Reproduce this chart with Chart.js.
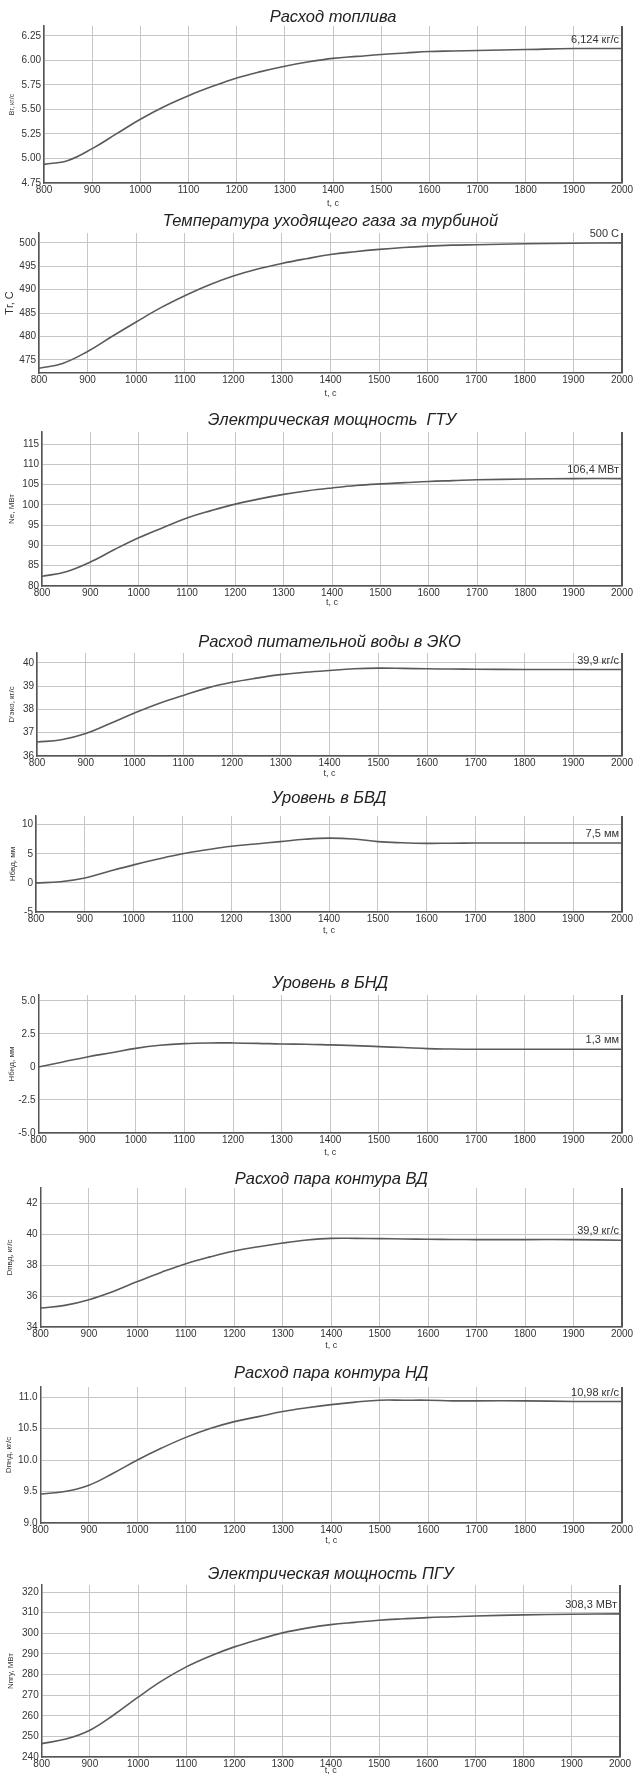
<!DOCTYPE html>
<html>
<head>
<meta charset="utf-8">
<script src="https://cdn.jsdelivr.net/npm/chart.js@4.4.1/dist/chart.umd.min.js"></script>
<style>
  body { margin: 0; background: #fff; }
  #page { position: relative; width: 635px; height: 1778px; overflow: hidden; }
  .panel { position: absolute; left: 0; width: 635px; }
</style>
</head>
<body>
<div id="page"></div>
<script>
// время, с
const times = [800, 850, 900, 950, 1000, 1050, 1100, 1150, 1200, 1250, 1300, 1350, 1400, 1450, 1500, 1550, 1600, 1650, 1700, 1800, 1900, 2000];
const xTicks = [800, 900, 1000, 1100, 1200, 1300, 1400, 1500, 1600, 1700, 1800, 1900, 2000];
const xLabels = ["800", "900", "1000", "1100", "1200", "1300", "1400", "1500", "1600", "1700", "1800", "1900", "2000"];

const fuelFlow = [4.94, 4.98, 5.10, 5.25, 5.40, 5.53, 5.64, 5.735, 5.82, 5.885, 5.94, 5.985, 6.02, 6.04, 6.06, 6.075, 6.09, 6.095, 6.10, 6.11, 6.12, 6.12];
const gasTemp = [473.2, 474.3, 476.8, 480.0, 483.1, 486.1, 488.7, 491.0, 492.9, 494.4, 495.6, 496.6, 497.5, 498.1, 498.6, 499.0, 499.3, 499.5, 499.6, 499.8, 499.9, 500.0];
const gtuPower = [82.4, 83.5, 85.9, 89.0, 91.9, 94.4, 96.8, 98.6, 100.2, 101.5, 102.6, 103.5, 104.2, 104.8, 105.2, 105.5, 105.8, 106.0, 106.2, 106.4, 106.5, 106.5];
const ecoFlow = [36.6, 36.7, 36.97, 37.4, 37.85, 38.26, 38.6, 38.93, 39.17, 39.35, 39.5, 39.6, 39.68, 39.75, 39.78, 39.77, 39.75, 39.74, 39.73, 39.72, 39.72, 39.72];
const levelHp = [0, 0.2, 0.85, 2.0, 3.1, 4.1, 5.0, 5.7, 6.3, 6.7, 7.1, 7.5, 7.7, 7.55, 7.1, 6.9, 6.8, 6.82, 6.85, 6.85, 6.85, 6.85];
const levelLp = [0, 0.38, 0.76, 1.08, 1.41, 1.64, 1.77, 1.82, 1.82, 1.79, 1.74, 1.72, 1.67, 1.62, 1.54, 1.47, 1.39, 1.36, 1.34, 1.34, 1.34, 1.34];
const steamHp = [35.23, 35.4, 35.77, 36.3, 36.94, 37.55, 38.1, 38.54, 38.92, 39.2, 39.44, 39.63, 39.74, 39.74, 39.72, 39.7, 39.68, 39.67, 39.66, 39.66, 39.66, 39.62];
const steamLp = [9.46, 9.5, 9.6, 9.79, 10.0, 10.19, 10.36, 10.5, 10.61, 10.69, 10.77, 10.83, 10.88, 10.92, 10.95, 10.95, 10.95, 10.94, 10.94, 10.94, 10.93, 10.93];
const pguPower = [246.5, 248.7, 253, 260.5, 269, 277, 283.7, 289, 293.4, 297, 300.2, 302.5, 304.2, 305.3, 306.3, 307.0, 307.6, 308.0, 308.4, 308.9, 309.2, 309.4];

// деления по оси Y
const ticksFuel = [4.75, 5.0, 5.25, 5.5, 5.75, 6.0, 6.25];
const labelsFuel = ["4.75", "5.00", "5.25", "5.50", "5.75", "6.00", "6.25"];
const ticksTemp = [475, 480, 485, 490, 495, 500];
const labelsTemp = ["475", "480", "485", "490", "495", "500"];
const ticksGtu = [80, 85, 90, 95, 100, 105, 110, 115];
const labelsGtu = ["80", "85", "90", "95", "100", "105", "110", "115"];
const ticksEco = [36, 37, 38, 39, 40];
const labelsEco = ["36", "37", "38", "39", "40"];
const ticksHp = [-5, 0, 5, 10];
const labelsHp = ["-5", "0", "5", "10"];
const ticksLp = [-5, -2.5, 0, 2.5, 5];
const labelsLp = ["-5.0", "-2.5", "0", "2.5", "5.0"];
const ticksSteamHp = [34, 36, 38, 40, 42];
const labelsSteamHp = ["34", "36", "38", "40", "42"];
const ticksSteamLp = [9, 9.5, 10, 10.5, 11];
const labelsSteamLp = ["9.0", "9.5", "10.0", "10.5", "11.0"];
const ticksPgu = [240, 250, 260, 270, 280, 290, 300, 310, 320];
const labelsPgu = ["240", "250", "260", "270", "280", "290", "300", "310", "320"];

const panels = [
  { title: "Расход топлива", yTitle: "Вг, кг/с", ySize: 7, yX: 12, values: fuelFlow, ticks: ticksFuel, labels: labelsFuel, min: 4.75, max: 6.35, endText: "6,124 кг/с", titleY: 17, top: 26, bottom: 183, xTitleY: 204, left: 44, right: 622 },
  { title: "Температура уходящего газа за турбиной", yTitle: "Тг, С", ySize: 11, yX: 10, values: gasTemp, ticks: ticksTemp, labels: labelsTemp, min: 472.2, max: 502.1, endText: "500 С", titleY: 221, top: 233, bottom: 373, xTitleY: 394, left: 39, right: 622 },
  { title: "Электрическая мощность  ГТУ", yTitle: "Nе, МВт", ySize: 8, yX: 12, values: gtuPower, ticks: ticksGtu, labels: labelsGtu, min: 80, max: 118, endText: "106,4 МВт", titleY: 420, top: 432, bottom: 586, xTitleY: 603, left: 42, right: 622 },
  { title: "Расход питательной воды в ЭКО", yTitle: "D'эко, кг/с", ySize: 8, yX: 12, values: ecoFlow, ticks: ticksEco, labels: labelsEco, min: 36, max: 40.43, endText: "39,9 кг/с", titleY: 642, top: 653, bottom: 756, xTitleY: 774, left: 37, right: 622 },
  { title: "Уровень в БВД", yTitle: "Нбвд, мм", ySize: 8, yX: 13, values: levelHp, ticks: ticksHp, labels: labelsHp, min: -5, max: 11.5, endText: "7,5 мм", titleY: 798, top: 816, bottom: 912, xTitleY: 931, left: 36, right: 622 },
  { title: "Уровень в БНД", yTitle: "Нбнд, мм", ySize: 8, yX: 12, values: levelLp, ticks: ticksLp, labels: labelsLp, min: -5, max: 5.45, endText: "1,3 мм", titleY: 983, top: 995, bottom: 1133, xTitleY: 1153, left: 38.5, right: 622 },
  { title: "Расход пара контура ВД", yTitle: "Dпвд, кг/с", ySize: 8, yX: 10, values: steamHp, ticks: ticksSteamHp, labels: labelsSteamHp, min: 34, max: 43, endText: "39,9 кг/с", titleY: 1179, top: 1188, bottom: 1327, xTitleY: 1346, left: 40.5, right: 622 },
  { title: "Расход пара контура НД", yTitle: "Dпнд, кг/с", ySize: 8, yX: 9, values: steamLp, ticks: ticksSteamLp, labels: labelsSteamLp, min: 9, max: 11.16, endText: "10,98 кг/с", titleY: 1373, top: 1387, bottom: 1523, xTitleY: 1541, left: 40.5, right: 622 },
  { title: "Электрическая мощность ПГУ", yTitle: "Nпгу, МВт", ySize: 8, yX: 11, values: pguPower, ticks: ticksPgu, labels: labelsPgu, min: 240, max: 323.4, endText: "308,3 МВт", titleY: 1574, top: 1585, bottom: 1757, xTitleY: 1771, left: 41.7, right: 620 },
];

Chart.defaults.font.family = "'Liberation Sans', Arial, sans-serif";
Chart.defaults.color = "#333";

// правая рамка и подпись конечного значения
const edgePlugin = {
  id: "edge",
  afterDatasetsDraw(chart, args, opts) {
    const { ctx, chartArea } = chart;
    ctx.save();
    ctx.strokeStyle = "#555";
    ctx.lineWidth = 2;
    ctx.beginPath();
    ctx.moveTo(chartArea.right, chartArea.top);
    ctx.lineTo(chartArea.right, chartArea.bottom);
    ctx.stroke();
    const data = chart.data.datasets[0].data;
    const last = data[data.length - 1];
    const y = chart.scales.y.getPixelForValue(last.y) - 9;
    ctx.font = "11px 'Liberation Sans', Arial, sans-serif";
    ctx.fillStyle = "#333";
    ctx.textAlign = "right";
    ctx.textBaseline = "middle";
    ctx.fillText(opts.text, chartArea.right - 3, y);
    ctx.restore();
  },
};

const page = document.getElementById("page");

panels.forEach((p) => {
  const blockTop = p.titleY - 12;
  const blockBottom = p.xTitleY + 7;

  const div = document.createElement("div");
  div.className = "panel";
  div.style.top = blockTop + "px";
  div.style.height = blockBottom - blockTop + "px";
  const canvas = document.createElement("canvas");
  div.appendChild(canvas);
  page.appendChild(div);

  new Chart(canvas, {
    type: "line",
    data: {
      datasets: [
        {
          data: times.map((t, i) => ({ x: t, y: p.values[i] })),
          borderColor: "#5a5a5a",
          borderWidth: 1.6,
          pointRadius: 0,
          fill: false,
          tension: 0.4,
        },
      ],
    },
    options: {
      responsive: true,
      maintainAspectRatio: false,
      devicePixelRatio: 1,
      animation: false,
      layout: { padding: { left: 0, right: 635 - p.right, top: 0, bottom: 0 } },
      plugins: {
        legend: { display: false },
        tooltip: { enabled: false },
        title: {
          display: true,
          text: p.title,
          fullSize: false,
          color: "#222",
          font: { size: 16.5, style: "italic", weight: "normal", lineHeight: 1 },
          padding: { top: 3.75, bottom: p.top - p.titleY - 8.25 },
        },
        edge: { text: p.endText },
      },
      scales: {
        x: {
          type: "linear",
          min: 800,
          max: 2000,
          afterBuildTicks: (axis) => {
            axis.ticks = xTicks.map((v) => ({ value: v }));
          },
          afterFit: (scale) => {
            scale.height = blockBottom - p.bottom;
          },
          ticks: {
            autoSkip: false,
            maxRotation: 0,
            padding: 1,
            font: { size: 10 },
            callback: (v, i) => xLabels[i],
          },
          grid: { color: "#c6c6c6", drawTicks: false },
          border: { color: "#555", width: 1.5 },
          title: {
            display: true,
            text: "t, с",
            font: { size: 9, lineHeight: 1 },
            padding: { top: 0, bottom: 2.5 },
          },
        },
        y: {
          min: p.min,
          max: p.max,
          afterBuildTicks: (axis) => {
            axis.ticks = p.ticks.map((v) => ({ value: v }));
          },
          afterFit: (scale) => {
            scale.width = p.left;
          },
          ticks: {
            padding: 3,
            font: { size: 10 },
            callback: (v, i) => p.labels[i],
          },
          grid: { color: "#c6c6c6", drawTicks: false },
          border: { color: "#555", width: 1.5 },
          title: {
            display: true,
            text: p.yTitle,
            font: { size: p.ySize, lineHeight: 1 },
            padding: { top: p.yX - p.ySize / 2, bottom: 0 },
          },
        },
      },
    },
    plugins: [edgePlugin],
  });
});
</script>
</body>
</html>
